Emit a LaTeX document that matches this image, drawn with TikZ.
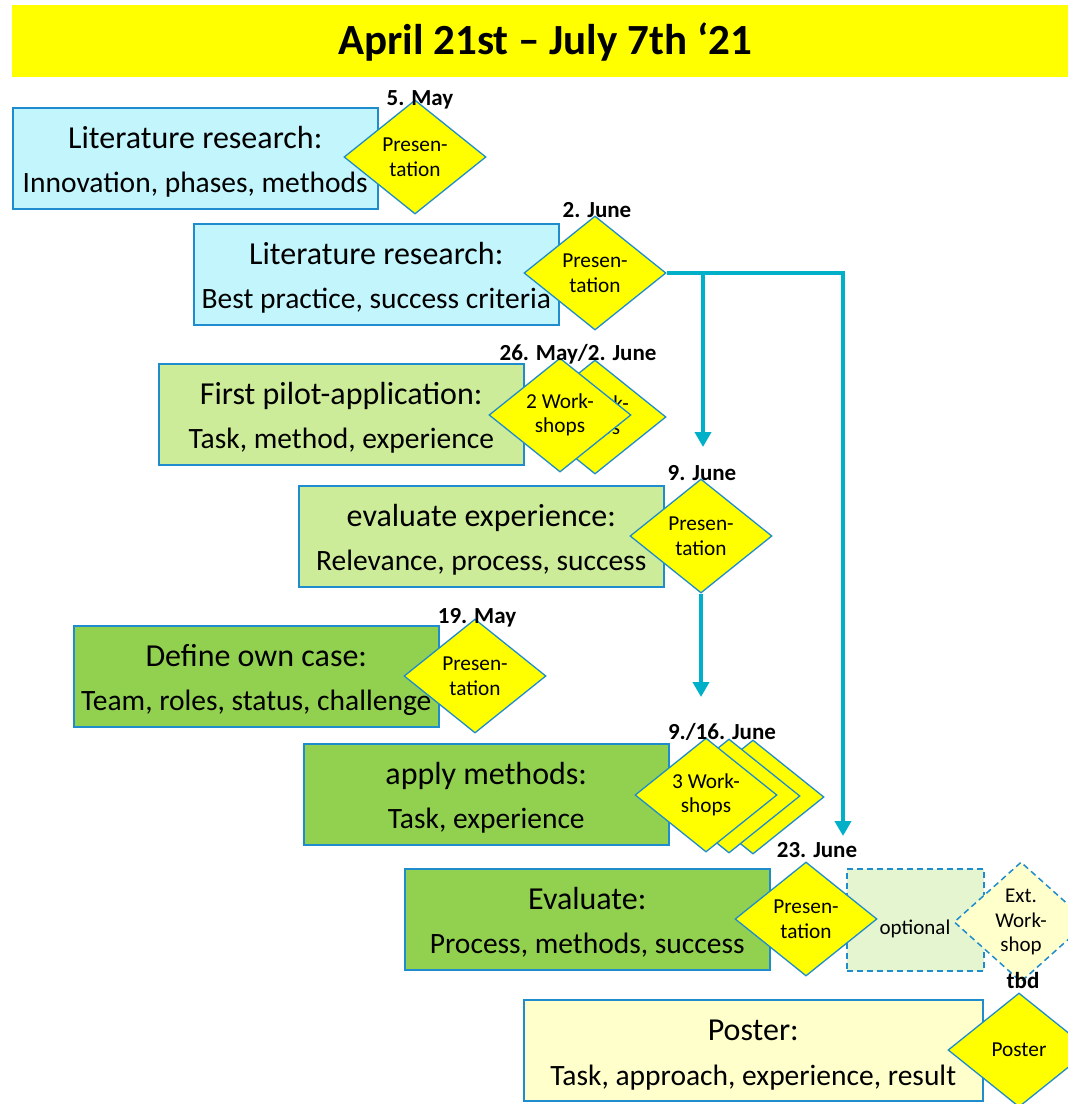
\documentclass[tikz,border=0pt]{standalone}
\usepackage{fontspec}
\setmainfont{Carlito}
\usetikzlibrary{shapes.geometric,arrows.meta,calc}
\definecolor{bord}{RGB}{30,140,205}
\definecolor{cyanfill}{RGB}{195,245,252}
\definecolor{lgreen}{RGB}{204,236,153}
\definecolor{mgreen}{RGB}{146,208,80}
\definecolor{lyellow}{RGB}{255,255,204}
\definecolor{optfill}{RGB}{229,245,207}
\definecolor{teal}{RGB}{0,176,200}
\definecolor{ylw}{RGB}{255,255,0}
\begin{document}
\begin{tikzpicture}[x=1pt,y=-1pt,
  box/.style={draw=bord, line width=1.5pt, minimum width=365pt, minimum height=101pt, inner sep=0pt, anchor=north west},
  lineA/.style={font=\fontsize{32}{38}\selectfont, anchor=base, inner sep=0pt},
  lineB/.style={font=\fontsize{29.5}{35}\selectfont, anchor=base, inner sep=0pt},
  dia/.style={shape=diamond, draw=bord, line width=1.3pt, fill=ylw, minimum width=142pt, minimum height=114pt, inner sep=0pt, align=center, font=\fontsize{21.3}{24.5}\selectfont},
  datel/.style={font=\bfseries\fontsize{23}{26}\selectfont, anchor=base, inner sep=0pt},
  arr/.style={draw=teal, line width=4pt, -{Triangle[width=16pt,length=15pt]}},
  dashbord/.style={draw=bord, line width=1.5pt, dash pattern=on 6pt off 4pt}
]
\useasboundingbox (0,0) rectangle (1068,1104);
\clip (0,0) rectangle (1068,1104);

% title
\node[fill=ylw, minimum width=1056pt, minimum height=72pt, inner sep=0pt, anchor=north west] (bar) at (12,5) {};
\node[font=\bfseries\fontsize{43}{48}\selectfont, anchor=base, inner sep=0pt] (title) at (545,54) {April 21st – July 7th ‘21};

% box 1
\node[box, fill=cyanfill] (b1) at (12,107) {};
\node[lineA] (b1a) at ($(b1.north)+(0,41)$) {Literature research:};
\node[lineB] (b1b) at ($(b1.north)+(0,85)$) {Innovation, phases, methods};
\node[dia] (d1) at (415,157) {Presen-\\tation};
\node[datel] (l1) at (420,105) {5. May};

% box 2
\node[box, fill=cyanfill] (b2) at (193,223) {};
\node[lineA] (b2a) at ($(b2.north)+(0,41)$) {Literature research:};
\node[lineB] (b2b) at ($(b2.north)+(0,85)$) {Best practice, success criteria};
\node[dia] (d2) at (595,273) {Presen-\\tation};
\node[datel] (l2) at (597,217) {2. June};

% box 3
\node[box, fill=lgreen] (b3) at (158,363) {};
\node[lineA] (b3a) at ($(b3.north)+(0,41)$) {First pilot-application:};
\node[lineB] (b3b) at ($(b3.north)+(0,85)$) {Task, method, experience};
\node[dia] (d3b) at (595,417) {2 Work-\\shops};
\node[dia] (d3) at (560,415) {2 Work-\\shops};
\node[datel] (l3) at (578,360) {26. May/2. June};

% box 4
\node[box, fill=lgreen] (b4) at (298,485) {};
\node[lineA] (b4a) at ($(b4.north)+(0,41)$) {evaluate experience:};
\node[lineB] (b4b) at ($(b4.north)+(0,85)$) {Relevance, process, success};
\node[dia] (d4) at (701,536) {Presen-\\tation};
\node[datel] (l4) at (702,480) {9. June};

% box 5
\node[box, fill=mgreen] (b5) at (73,625) {};
\node[lineA] (b5a) at ($(b5.north)+(0,41)$) {Define own case:};
\node[lineB] (b5b) at ($(b5.north)+(0,85)$) {Team, roles, status, challenge};
\node[dia] (d5) at (475,676) {Presen-\\tation};
\node[datel] (l5) at (477,623) {19. May};

% box 6
\node[box, fill=mgreen] (b6) at (303,743) {};
\node[lineA] (b6a) at ($(b6.north)+(0,41)$) {apply methods:};
\node[lineB] (b6b) at ($(b6.north)+(0,85)$) {Task, experience};
\node[dia] (d6c) at (753,797) {};
\node[dia] (d6b) at (729,796) {};
\node[dia] (d6) at (706,795) {3 Work-\\shops};
\node[datel] (l6) at (722,739) {9./16. June};

% box 7
\node[box, fill=mgreen] (b7) at (404,868) {};
\node[lineA] (b7a) at ($(b7.north)+(0,41)$) {Evaluate:};
\node[lineB] (b7b) at ($(b7.north)+(0,85)$) {Process, methods, success};
\node[dashbord, fill=optfill, minimum width=137pt, minimum height=102pt, inner sep=0pt, anchor=north west] (opt) at (846,868) {};
\node[font=\fontsize{21}{24}\selectfont, anchor=base, inner sep=0pt] (optt) at (915,934) {optional};
\node[dashbord, shape=diamond, fill=lyellow, minimum width=134pt, minimum height=120pt, inner sep=0pt, align=center, font=\fontsize{21}{24.5}\selectfont] (dx) at (1021,922) {Ext.\\Work-\\shop};
\node[dia] (d7) at (806,919) {Presen-\\tation};
\node[datel] (l7) at (817,857) {23. June};

% box 8
\node[box, fill=lyellow, minimum width=459pt] (b8) at (523,999) {};
\node[lineA] (b8a) at ($(b8.north)+(0,41)$) {Poster:};
\node[lineB] (b8b) at ($(b8.north)+(0,86)$) {Task, approach, experience, result};
\node[dia] (d8) at (1019,1050) {Poster};
\node[datel] (l8) at (1023,988) {tbd};

% connectors
\coordinate (c1) at (843,836);
\coordinate (c2) at (703,447);
\coordinate (c3) at (701,697);
\draw[arr] (d2.east) -| (c1);
\draw[arr] (d2.east -| c2) -- (c2);
\draw[arr] (d4.south) -- (d4.south |- c3);
\end{tikzpicture}
\end{document}
